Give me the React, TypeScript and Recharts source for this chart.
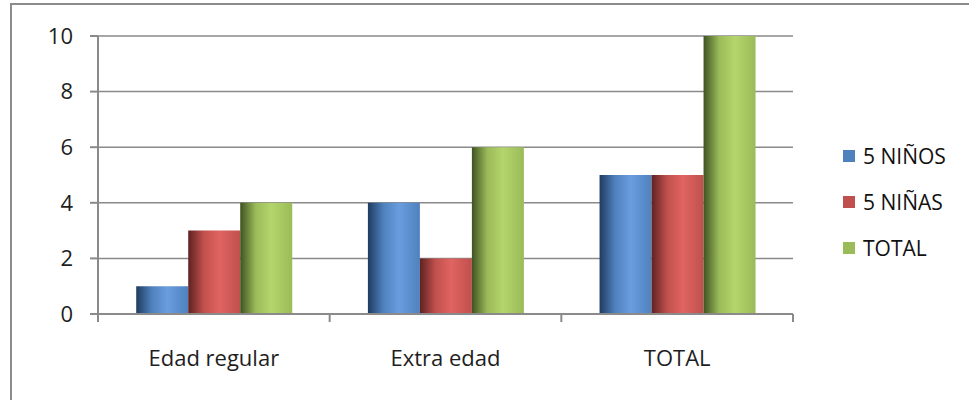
import React from "react";
import { BarChart, Bar, XAxis, YAxis, CartesianGrid } from "recharts";

const categories = ["Edad regular", "Extra edad", "TOTAL"];
const ninos = [1, 4, 5];
const ninas = [3, 2, 5];
const total = [4, 6, 10];
const yTicks = [0, 2, 4, 6, 8, 10];

const series = [
  { key: "ninos", name: "5 NIÑOS", color: "#4f81bd", dark: "#1f3b60", light: "#6a9de0" },
  { key: "ninas", name: "5 NIÑAS", color: "#c0504d", dark: "#5e2221", light: "#e06462" },
  { key: "total", name: "TOTAL", color: "#9bbb59", dark: "#3f5322", light: "#b4d46c" },
];

const data = categories.map((c, i) => ({
  name: c,
  ninos: ninos[i],
  ninas: ninas[i],
  total: total[i],
}));

const W = 969;
const H = 400;
const M = { top: 36, right: 176, left: 38, bottom: 36 };
const YW = 60;
const PLOT_W = W - M.left - M.right - YW;
const BAND = PLOT_W / categories.length;
const FONT = "'Open Sans', Lato, sans-serif";
const AXIS = "#8a8a8a";
const TICK = 8;
const XMARGIN = 28;

const XTick = (props: any) => {
  const { x, y, payload, index } = props;
  const axisY = y - TICK - XMARGIN;
  const left = x - BAND / 2;
  const right = x + BAND / 2;
  return (
    <g>
      {index === 0 && (
        <line x1={left} y1={axisY} x2={left} y2={axisY + TICK} stroke={AXIS} strokeWidth={2} />
      )}
      <line x1={right} y1={axisY} x2={right} y2={axisY + TICK} stroke={AXIS} strokeWidth={2} />
      <text x={x} y={y} dy="0.71em" textAnchor="middle" fontSize={22} fontFamily={FONT} fill="#1e1e1e">
        {payload.value}
      </text>
    </g>
  );
};

const Legend = () => (
  <div style={{ position: "absolute", left: 843, top: 133, fontFamily: FONT, fontSize: 21, color: "#111" }}>
    {series.map((s) => (
      <div key={s.key} style={{ display: "flex", alignItems: "center", height: 46 }}>
        <span style={{ width: 12, height: 12, background: s.color, marginRight: 8, display: "inline-block" }} />
        <span>{s.name}</span>
      </div>
    ))}
  </div>
);

export default function App() {
  return (
    <div style={{ position: "absolute", left: 0, top: 0, width: W, height: H, overflow: "hidden", background: "#fff" }}>
      <div
        style={{
          position: "absolute",
          left: 10,
          top: 3,
          width: W + 20,
          height: H + 20,
          border: "2px solid #8c8c8c",
          boxSizing: "border-box",
        }}
      />
      <BarChart
        width={W}
        height={H}
        data={data}
        margin={M}
        barGap={0}
        barCategoryGap="16.5%"
        style={{ position: "absolute", left: 0, top: 0 }}
      >
        <defs>
          {series.map((s) => (
            <linearGradient key={s.key} id={`g-${s.key}`} x1="0" y1="0" x2="1" y2="0">
              <stop offset="0%" stopColor={s.dark} />
              <stop offset="30%" stopColor={s.color} />
              <stop offset="60%" stopColor={s.light} />
              <stop offset="100%" stopColor={s.color} />
            </linearGradient>
          ))}
        </defs>
        <CartesianGrid vertical={false} stroke={AXIS} strokeWidth={1.5} />
        <XAxis
          dataKey="name"
          axisLine={{ stroke: AXIS, strokeWidth: 2 }}
          tickLine={false}
          tickSize={TICK}
          tickMargin={XMARGIN}
          height={50}
          interval={0}
          tick={<XTick />}
        />
        <YAxis
          width={YW}
          domain={[0, 10]}
          ticks={yTicks}
          axisLine={{ stroke: AXIS, strokeWidth: 2 }}
          tickLine={{ stroke: AXIS, strokeWidth: 2 }}
          tickSize={TICK}
          tickMargin={17}
          tick={{ fontSize: 22, fontFamily: FONT, fill: "#1e1e1e" }}
        />
        {series.map((s) => (
          <Bar key={s.key} dataKey={s.key} name={s.name} fill={`url(#g-${s.key})`} isAnimationActive={false} />
        ))}
      </BarChart>
      <Legend />
    </div>
  );
}
